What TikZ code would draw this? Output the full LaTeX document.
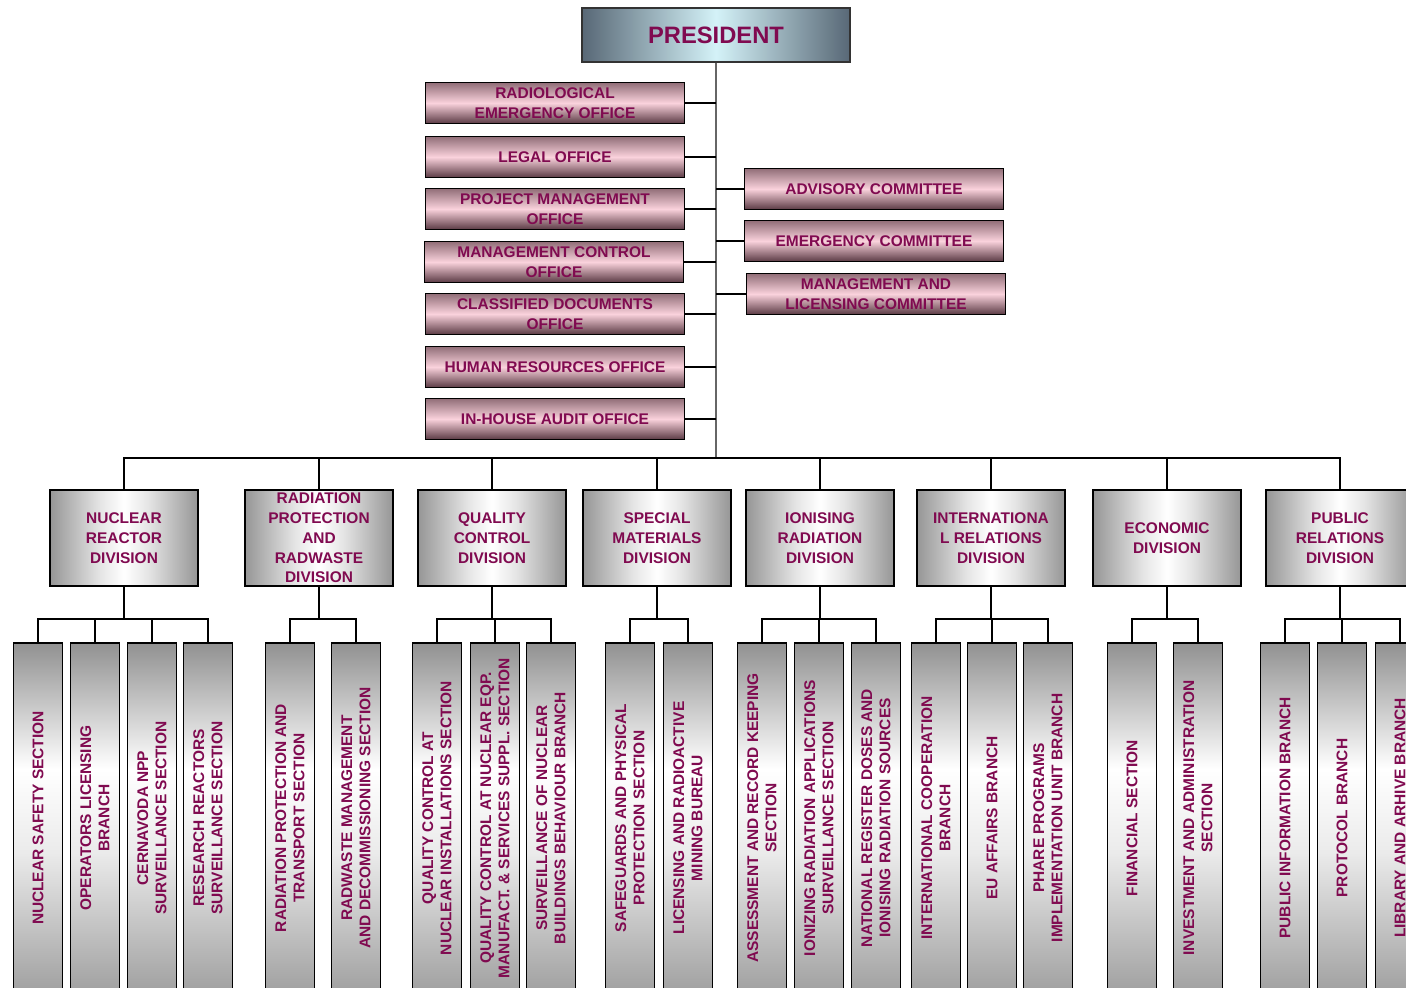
\documentclass[tikz,border=0pt]{standalone}
\usepackage{fontspec}
\setmainfont{Liberation Sans}

\definecolor{labeltext}{RGB}{128,10,80}
\definecolor{presedge}{RGB}{88,104,118}
\definecolor{prescentre}{RGB}{212,242,248}
\definecolor{officetop}{RGB}{145,110,120}
\definecolor{officemid}{RGB}{250,210,220}
\definecolor{officebot}{RGB}{90,58,68}
\definecolor{divedge}{RGB}{150,150,150}
\definecolor{sectleft}{RGB}{145,145,145}
\definecolor{sectright}{RGB}{160,160,160}

% left edge, light band, right edge of a section column (node is turned by 90)
\pgfdeclareverticalshading{sectshade}{100bp}{color(0bp)=(sectright); color(25bp)=(sectright);
  color(45bp)=(white!92!black); color(57bp)=(white); color(75bp)=(sectleft); color(100bp)=(sectleft)}
% light middle band of a division box
\pgfdeclarehorizontalshading{divshade}{100bp}{color(0bp)=(divedge); color(25bp)=(divedge);
  color(42bp)=(white!90!black); color(50bp)=(white); color(58bp)=(white!90!black);
  color(75bp)=(divedge); color(100bp)=(divedge)}

\begin{document}
\begin{tikzpicture}[x=0.02cm, y=-0.02cm,
  every node/.style={text=labeltext, align=center, inner sep=0pt,
    font=\bfseries\fontsize{8.8}{11.2}\selectfont},
  presbox/.style={draw=black!80, line width=0.8pt, minimum width=5.36cm, minimum height=1.08cm,
    left color=presedge, right color=presedge, middle color=prescentre,
    font=\bfseries\fontsize{13.5}{16}\selectfont},
  officebox/.style={draw, line width=1pt, minimum width=5.18cm, minimum height=0.82cm,
    top color=officetop, bottom color=officebot, middle color=officemid},
  divbox/.style={draw, line width=1pt, minimum width=2.96cm, minimum height=1.92cm,
    shading=divshade},
  sectbox/.style={draw, line width=1pt, rotate=90, minimum width=7cm, minimum height=0.98cm,
    shading=sectshade, font=\bfseries\fontsize{8.8}{10.4}\selectfont},
  link/.style={line width=1pt},
  trunk/.style={line width=1.1pt, black!60}]

  % --- 0. frame of the picture ---
  \useasboundingbox (0,0) rectangle (1406,987);
  \clip (0,0) rectangle (1406,987);

  % --- 1. president, offices and committees ---
  \node[presbox] (President) at (716,35) {PRESIDENT};

  \node[officebox] (RadEmerg)   at (555,103) {RADIOLOGICAL\\EMERGENCY OFFICE};
  \node[officebox] (Legal)      at (555,157) {LEGAL OFFICE};
  \node[officebox] (ProjMgmt)   at (555,209) {PROJECT MANAGEMENT\\OFFICE};
  \node[officebox] (MgmtCtrl)   at (554,262) {MANAGEMENT CONTROL\\OFFICE};
  \node[officebox] (Classified) at (555,314) {CLASSIFIED DOCUMENTS\\OFFICE};
  \node[officebox] (HumanRes)   at (555,367) {HUMAN RESOURCES OFFICE};
  \node[officebox] (Audit)      at (555,419) {IN-HOUSE AUDIT OFFICE};

  \node[officebox] (Advisory)   at (874,189) {ADVISORY COMMITTEE};
  \node[officebox] (Emergency)  at (874,241) {EMERGENCY COMMITTEE};
  \node[officebox] (Licensing)  at (876,294) {MANAGEMENT AND\\LICENSING COMMITTEE};

  \coordinate (Hub) at (716,458);
  \draw[trunk] (President.south) -- (Hub);

  \draw[link] (RadEmerg.east)   -- (RadEmerg.east -| Hub);
  \draw[link] (Legal.east)      -- (Legal.east -| Hub);
  \draw[link] (ProjMgmt.east)   -- (ProjMgmt.east -| Hub);
  \draw[link] (MgmtCtrl.east)   -- (MgmtCtrl.east -| Hub);
  \draw[link] (Classified.east) -- (Classified.east -| Hub);
  \draw[link] (HumanRes.east)   -- (HumanRes.east -| Hub);
  \draw[link] (Audit.east)      -- (Audit.east -| Hub);
  \draw[link] (Advisory.west)   -- (Advisory.west -| Hub);
  \draw[link] (Emergency.west)  -- (Emergency.west -| Hub);
  \draw[link] (Licensing.west)  -- (Licensing.west -| Hub);

  % --- 2. divisions ---
  \node[divbox] (Nuclear)   at (124,538)  {NUCLEAR\\REACTOR\\DIVISION};
  \node[divbox] (RadProt)   at (319,538)  {RADIATION\\PROTECTION\\AND\\RADWASTE\\DIVISION};
  \node[divbox] (Quality)   at (492,538)  {QUALITY\\CONTROL\\DIVISION};
  \node[divbox] (Special)   at (657,538)  {SPECIAL\\MATERIALS\\DIVISION};
  \node[divbox] (Ionising)  at (820,538)  {IONISING\\RADIATION\\DIVISION};
  \node[divbox] (Intl)      at (991,538)  {INTERNATIONA\\L RELATIONS\\DIVISION};
  \node[divbox] (Economic)  at (1167,538) {ECONOMIC\\DIVISION};
  \node[divbox] (PublicRel) at (1340,538) {PUBLIC\\RELATIONS\\DIVISION};

  \draw[link] (Nuclear.north) |- (Hub) -| (PublicRel.north);
  \draw[link] (RadProt.north)  -- (RadProt.north |- Hub);
  \draw[link] (Quality.north)  -- (Quality.north |- Hub);
  \draw[link] (Special.north)  -- (Special.north |- Hub);
  \draw[link] (Ionising.north) -- (Ionising.north |- Hub);
  \draw[link] (Intl.north)     -- (Intl.north |- Hub);
  \draw[link] (Economic.north) -- (Economic.north |- Hub);

  % --- 3. sections and branches ---
  % nuclear reactor division
  \node[sectbox] (NucSafety) at (38,818)  {NUCLEAR SAFETY SECTION};
  \node[sectbox] (OpLic)     at (95,818)  {OPERATORS LICENSING\\BRANCH};
  \node[sectbox] (Cernavoda) at (152,818) {CERNAVODA NPP\\SURVEILLANCE SECTION};
  \node[sectbox] (ResReact)  at (208,818) {RESEARCH REACTORS\\SURVEILLANCE SECTION};
  \draw[link] (Nuclear.south) -- ++(0,32) coordinate (NuclearBus);
  \draw[link] (NucSafety.east) |- (NuclearBus) -| (ResReact.east);
  \draw[link] (OpLic.east)     -- (OpLic.east |- NuclearBus);
  \draw[link] (Cernavoda.east) -- (Cernavoda.east |- NuclearBus);

  % radiation protection and radwaste division
  \node[sectbox] (RadTrans)  at (290,818) {RADIATION PROTECTION AND\\TRANSPORT SECTION};
  \node[sectbox] (Radwaste)  at (356,818) {RADWASTE MANAGEMENT\\AND DECOMMISSIONING SECTION};
  \draw[link] (RadProt.south) -- ++(0,32) coordinate (RadProtBus);
  \draw[link] (RadTrans.east) |- (RadProtBus) -| (Radwaste.east);

  % quality control division
  \node[sectbox] (QcInst)    at (437,818) {QUALITY CONTROL AT\\NUCLEAR INSTALLATIONS SECTION};
  \node[sectbox] (QcEqp)     at (495,818) {QUALITY CONTROL AT NUCLEAR EQP.\\MANUFACT. \& SERVICES SUPPL. SECTION};
  \node[sectbox] (Buildings) at (551,818) {SURVEILLANCE OF NUCLEAR\\BUILDINGS BEHAVIOUR BRANCH};
  \draw[link] (Quality.south) -- ++(0,32) coordinate (QualityBus);
  \draw[link] (QcInst.east) |- (QualityBus) -| (Buildings.east);
  \draw[link] (QcEqp.east)  -- (QcEqp.east |- QualityBus);

  % special materials division
  \node[sectbox] (Safeguard) at (630,818) {SAFEGUARDS AND PHYSICAL\\PROTECTION SECTION};
  \node[sectbox] (Mining)    at (688,818) {LICENSING AND RADIOACTIVE\\MINING BUREAU};
  \draw[link] (Special.south) -- ++(0,32) coordinate (SpecialBus);
  \draw[link] (Safeguard.east) |- (SpecialBus) -| (Mining.east);

  % ionising radiation division
  \node[sectbox] (Records)   at (762,818) {ASSESSMENT AND RECORD KEEPING\\SECTION};
  \node[sectbox] (IonApp)    at (819,818) {IONIZING RADIATION APPLICATIONS\\SURVEILLANCE SECTION};
  \node[sectbox] (Register)  at (876,818) {NATIONAL REGISTER DOSES AND\\IONISING RADIATION SOURCES};
  \draw[link] (Ionising.south) -- ++(0,32) coordinate (IonisingBus);
  \draw[link] (Records.east) |- (IonisingBus) -| (Register.east);
  \draw[link] (IonApp.east)  -- (IonApp.east |- IonisingBus);

  % international relations division
  \node[sectbox] (Coop)      at (936,818)  {INTERNATIONAL COOPERATION\\BRANCH};
  \node[sectbox] (EuAffairs) at (992,818)  {EU AFFAIRS BRANCH};
  \node[sectbox] (Phare)     at (1048,818) {PHARE PROGRAMS\\IMPLEMENTATION UNIT BRANCH};
  \draw[link] (Intl.south) -- ++(0,32) coordinate (IntlBus);
  \draw[link] (Coop.east) |- (IntlBus) -| (Phare.east);
  \draw[link] (EuAffairs.east) -- (EuAffairs.east |- IntlBus);

  % economic division
  \node[sectbox] (Financial) at (1132,818) {FINANCIAL SECTION};
  \node[sectbox] (Invest)    at (1198,818) {INVESTMENT AND ADMINISTRATION\\SECTION};
  \draw[link] (Economic.south) -- ++(0,32) coordinate (EconomicBus);
  \draw[link] (Financial.east) |- (EconomicBus) -| (Invest.east);

  % public relations division
  \node[sectbox] (PubInfo)   at (1285,818) {PUBLIC INFORMATION BRANCH};
  \node[sectbox] (Protocol)  at (1342,818) {PROTOCOL BRANCH};
  \node[sectbox] (Library)   at (1400,818) {LIBRARY AND ARHIVE BRANCH};
  \draw[link] (PublicRel.south) -- ++(0,32) coordinate (PublicBus);
  \draw[link] (PubInfo.east) |- (PublicBus) -| (Library.east);
  \draw[link] (Protocol.east) -- (Protocol.east |- PublicBus);

\end{tikzpicture}
\end{document}
